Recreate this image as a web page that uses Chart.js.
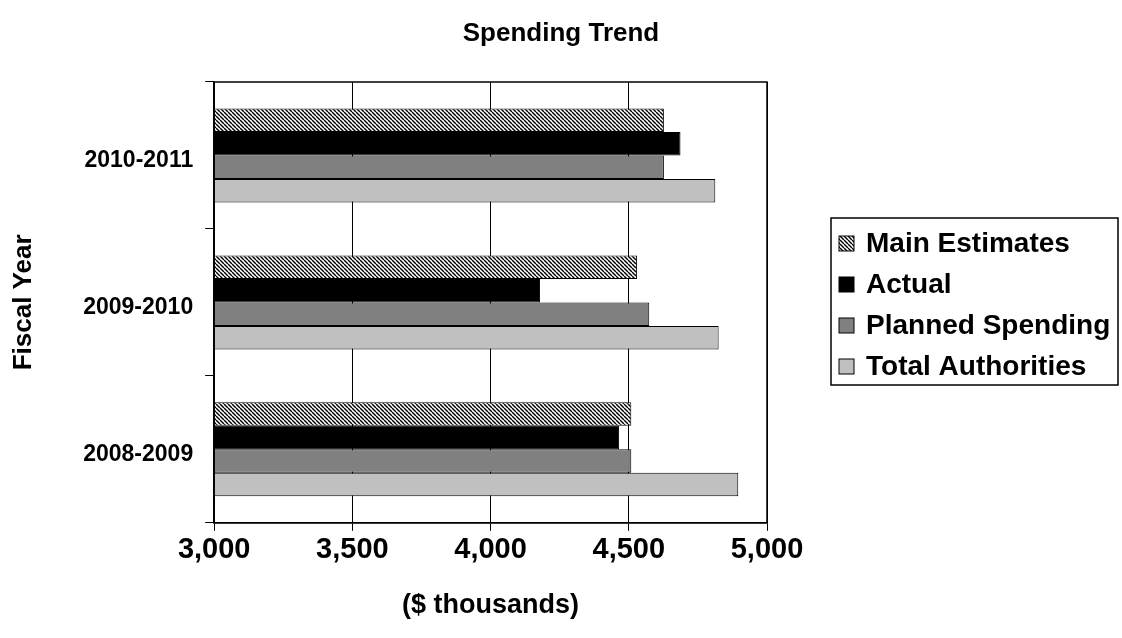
<!DOCTYPE html>
<html>
<head>
<meta charset="utf-8">
<script src="https://cdn.jsdelivr.net/npm/chart.js"></script>
<style>
  html, body { margin: 0; padding: 0; background: #fff; }
  #wrap { width: 1122px; height: 638px; }
</style>
</head>
<body>
<div id="wrap"><canvas id="spending-chart" width="1122" height="638"></canvas></div>
<script>
const fiscalYears = ['2010-2011', '2009-2010', '2008-2009'];
const seriesNames = ['Main Estimates', 'Actual', 'Planned Spending', 'Total Authorities'];
const mainEstimates = [4627, 4530, 4509];
const actual = [4687, 4179, 4465];
const plannedSpending = [4627, 4574, 4509];
const totalAuthorities = [4813, 4825, 4896];
const xTicks = [3000, 3500, 4000, 4500, 5000];

const FONT = 'Liberation Sans, Arial, sans-serif';

// hatched fill for main estimates
function makeHatch() {
    const c = document.createElement('canvas');
    c.width = 4;
    c.height = 4;
    const g = c.getContext('2d');
    g.fillStyle = '#fff';
    g.fillRect(0, 0, 4, 4);
    g.strokeStyle = '#000';
    g.lineWidth = 1.4;
    [-4, 0, 4].forEach(k => {
        g.beginPath();
        g.moveTo(k, 0);
        g.lineTo(k + 4, 4);
        g.stroke();
    });
    return g.createPattern(c, 'repeat');
}

const ctx = document.querySelector('#spending-chart').getContext('2d');
const hatch = makeHatch();
const fills = [hatch, '#000000', '#808080', '#c0c0c0'];
const values = [mainEstimates, actual, plannedSpending, totalAuthorities];

// frame around the plot area + page-centred title
const frame = {
    id: 'frame',
    afterDatasetsDraw(chart) {
        const a = chart.chartArea;
        const c = chart.ctx;
        c.save();
        c.strokeStyle = '#000';
        c.lineWidth = 1.5;
        c.strokeRect(a.left, a.top, a.right - a.left, a.bottom - a.top);
        c.fillStyle = '#000';
        c.font = 'bold 26px ' + FONT;
        c.textAlign = 'center';
        c.textBaseline = 'middle';
        c.fillText('Spending Trend', 561, 34);
        c.restore();
    }
};

// boxed legend on the right, like the original
const boxLegend = {
    id: 'boxLegend',
    afterDraw(chart) {
        const c = chart.ctx;
        const x = 831, y = 218, w = 287, h = 167;
        c.save();
        c.strokeStyle = '#000';
        c.lineWidth = 1.5;
        c.strokeRect(x, y, w, h);
        c.font = 'bold 28px ' + FONT;
        c.textBaseline = 'middle';
        chart.data.datasets.forEach((ds, i) => {
            const cy = y + 25 + i * 41;
            c.fillStyle = ds.backgroundColor;
            c.fillRect(839, cy - 7, 15, 15);
            c.strokeStyle = '#000';
            c.lineWidth = 1;
            c.strokeRect(839, cy - 7, 15, 15);
            c.fillStyle = '#000';
            c.fillText(ds.label, 866, cy + 1);
        });
        c.restore();
    }
};

new Chart(ctx, {
    type: 'bar',
    data: {
        labels: fiscalYears,
        datasets: seriesNames.map((name, i) => ({
            label: name,
            data: values[i],
            backgroundColor: fills[i],
            borderColor: '#000',
            borderWidth: 1,
            categoryPercentage: 0.64,
            barPercentage: 1.0
        }))
    },
    options: {
        indexAxis: 'y',
        responsive: false,
        animation: false,
        layout: { padding: { left: 8, right: 355, top: 82, bottom: 16 } },
        plugins: {
            legend: { display: false },
            tooltip: { enabled: false },
            title: { display: false }
        },
        scales: {
            x: {
                min: 3000,
                max: 5000,
                afterBuildTicks: scale => { scale.ticks = xTicks.map(v => ({ value: v })); },
                ticks: {
                    color: '#000',
                    font: { family: FONT, size: 29, weight: 'bold' },
                    padding: 2,
                    callback: v => v.toLocaleString('en-US')
                },
                grid: { color: '#000', lineWidth: 1, tickLength: 8 },
                border: { color: '#000', width: 1.5 },
                title: {
                    display: true,
                    text: '($ thousands)',
                    color: '#000',
                    font: { family: FONT, size: 27, weight: 'bold' },
                    padding: { top: 20, bottom: 0 }
                }
            },
            y: {
                ticks: {
                    color: '#000',
                    font: { family: FONT, size: 23, weight: 'bold' },
                    padding: 12,
                    labelOffset: 5
                },
                grid: { drawOnChartArea: false, offset: true, color: '#000', tickLength: 9 },
                border: { color: '#000', width: 1.5 },
                title: {
                    display: true,
                    text: 'Fiscal Year',
                    color: '#000',
                    font: { family: FONT, size: 26, weight: 'bold' },
                    padding: { top: 0, bottom: 32 }
                }
            }
        }
    },
    plugins: [frame, boxLegend]
});
</script>
</body>
</html>
